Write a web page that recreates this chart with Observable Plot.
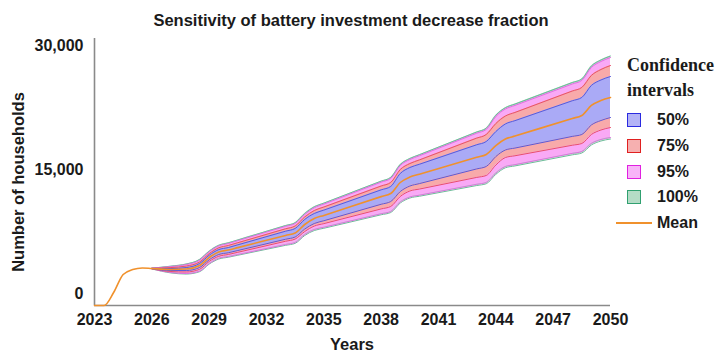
<!DOCTYPE html>
<html><head><meta charset="utf-8">
<script src="https://cdn.jsdelivr.net/npm/d3@7"></script>
<script src="https://cdn.jsdelivr.net/npm/@observablehq/plot@0.6"></script>
<style>
body{margin:0;background:#fff;}
#wrap{position:relative;width:718px;height:352px;font-family:"Liberation Sans",Arial,sans-serif;font-weight:bold;color:#1a1a1a;overflow:hidden;}
#chart{position:absolute;left:0;top:0;}
.t{position:absolute;white-space:nowrap;line-height:20px;}
.sq{position:absolute;width:12px;height:12px;border-width:1.5px;border-style:solid;}
.serif{font-family:"Liberation Serif","Times New Roman",serif;font-size:18px;line-height:22px;}
</style></head><body>
<div id="wrap">
  <div id="chart"></div>
  <div class="t" style="left:0;width:702px;text-align:center;top:10px;font-size:16.5px;">Sensitivity of battery investment decrease fraction</div>
  <div class="t" style="left:17.5px;top:182px;font-size:16.5px;transform:translate(-50%,-50%) rotate(-90deg);">Number of households</div>
  <div class="t" style="left:352px;top:336px;font-size:16.5px;line-height:16px;transform:translateX(-50%);">Years</div>
  <div id="legend"></div>
</div>
<script>
// Mean trajectory
const years = [2023,2023.5,2024,2024.5,2025,2025.5,2026,2027,2027.8,2028.5,2029,2029.5,2030,2030.5,2033,2033.5,2034,2034.5,2035,2038,2038.5,2039,2039.5,2040,2043,2043.5,2044,2044.5,2045,2048,2048.5,2049,2049.5,2050];
const meanValues = [-1450,-1450,120,2300,2900,3090,3020,2900,2960,3390,4360,5020,5260,5554,7026,7320,8350,9070,9449,11721,12100,13430,14090,14431,16479,16820,17900,18690,19046,21184,21540,22750,23350,23710];

// Confidence bands
const bandYears = [2026,2027,2027.8,2028.5,2029,2029.5,2030,2030.5,2033,2033.5,2034,2034.5,2035,2038,2038.5,2039,2039.5,2040,2043,2043.5,2044,2044.5,2045,2048,2048.5,2049,2049.5,2050];
const ci50Lo  = [3000,2780,2780,3150,4080,4720,4930,5203,6567,6840,7800,8470,8803,10797,11130,12340,13000,13296,15074,15370,16570,17360,17595,19005,19240,20390,20930,21290];
const ci50Hi  = [3040,3020,3140,3630,4630,5310,5560,5890,7540,7870,8960,9680,10089,12541,12950,14520,15240,15634,17996,18390,19590,20510,20911,23319,23720,25170,25830,26250];
const ci75Lo  = [2990,2660,2600,2930,3880,4500,4720,4987,6323,6590,7500,8160,8456,10234,10530,11740,12400,12635,14045,14280,15540,16450,16663,17937,18150,19240,19780,20080];
const ci75Hi  = [3050,3140,3320,3810,4820,5530,5810,6147,7833,8170,9260,10040,10464,13006,13430,15000,15720,16160,18800,19240,20560,21470,21903,24497,24930,26380,27100,27580];
const ci95Lo  = [2980,2540,2415,2700,3630,4260,4470,4713,5927,6170,7140,7740,8013,9647,9920,11070,11670,11890,13210,13430,14570,15360,15588,16952,17180,18150,18630,18870];
const ci95Hi  = [3060,3260,3505,4030,5040,5750,6050,6396,8124,8470,9560,10370,10814,13476,13920,15490,16210,16665,19395,19850,21410,22320,22753,25347,25780,27350,28070,28550];
const ci100Lo = [2975,2490,2355,2640,3560,4170,4390,4630,5830,6070,7020,7620,7893,9527,9800,10950,11550,11766,13064,13280,14420,15210,15434,16776,17000,17970,18450,18690];
const ci100Hi = [3065,3310,3565,4120,5120,5830,6130,6479,8221,8570,9680,10490,10934,13596,14040,15610,16330,16789,19541,20000,21570,22480,22915,25525,25960,27530,28250,28730];

// Axis ticks and legend labels
const xTicks = [2023,2026,2029,2032,2035,2038,2041,2044,2047,2050];
const yTicks = [0,15000,30000];
const legendTitle = ["Confidence","intervals"];
const legendLabels = ["50%","75%","95%","100%"];
const meanLabel = "Mean";

const fills   = ["#aaaaf6","#f8aaaa","#f9a9f6","#b0dcc4"];
const strokes = ["#5a5ad8","#e8506a","#e070e0","#6cbc98"];
const legendFill = ["#b3b3f6","#f6b0b0","#f8b4f8","#b4dcc6"];
const legendStroke = ["#2a2ae0","#e02020","#e020e0","#30a070"];
const meanColor = "#f0912c";

const rows = years.map((x,i)=>({x, mean: meanValues[i]}));
const bands = bandYears.map((x,i)=>({x,
  lo50:ci50Lo[i], hi50:ci50Hi[i], lo75:ci75Lo[i], hi75:ci75Hi[i],
  lo95:ci95Lo[i], hi95:ci95Hi[i], lo100:ci100Lo[i], hi100:ci100Hi[i]}));
const curve = "monotone-x";
const yMin = -1450;

const levels = ["100","95","75","50"];
const idx = {"50":0,"75":1,"95":2,"100":3};
const areaMarks = levels.map(l => Plot.areaY(bands,{x:"x",y1:"lo"+l,y2:"hi"+l,fill:fills[idx[l]],curve}));
const lineMarks = levels.flatMap(l => [
  Plot.lineY(bands,{x:"x",y:"lo"+l,stroke:strokes[idx[l]],strokeWidth:1,curve}),
  Plot.lineY(bands,{x:"x",y:"hi"+l,stroke:strokes[idx[l]],strokeWidth:1,curve})
]);

const chart = Plot.plot({
  width:718, height:352,
  marginLeft:94, marginRight:108, marginTop:38, marginBottom:47,
  x:{domain:[2023,2050]},
  y:{domain:[yMin,30850]},
  style:{fontFamily:"'Liberation Sans', Arial, sans-serif", fontSize:"16px", fontWeight:"bold", color:"#1a1a1a", background:"transparent", overflow:"visible"},
  marks:[
    Plot.ruleX([2023],{stroke:"#8a8a8a",strokeWidth:1.6}),
    Plot.ruleY([yMin],{stroke:"#8a8a8a",strokeWidth:1.6}),
    ...areaMarks,
    ...lineMarks,
    Plot.lineY(rows,{x:"x",y:"mean",stroke:meanColor,strokeWidth:1.6,curve}),
    Plot.axisX({ticks:xTicks, tickFormat:d=>String(d), tickSize:0, tickPadding:8, label:null, fill:"#1a1a1a"}),
    Plot.axisY({ticks:yTicks, tickFormat:d3.format(","), tickSize:0, tickPadding:11, label:null, fill:"#1a1a1a"})
  ]
});
document.getElementById("chart").appendChild(chart);

// Legend
const lg = document.getElementById("legend");
let html = "";
html += `<div class="t serif" style="left:627px;top:${65-11}px;">${legendTitle[0]}</div>`;
html += `<div class="t serif" style="left:627px;top:${90-11}px;">${legendTitle[1]}</div>`;
const centers = [120,146,172,197];
legendLabels.forEach((lab,i)=>{
  html += `<div class="sq" style="left:627px;top:${centers[i]-7}px;background:${legendFill[i]};border-color:${legendStroke[i]};"></div>`;
  html += `<div class="t" style="left:657px;top:${centers[i]-10}px;font-size:16px;">${lab}</div>`;
});
html += `<div style="position:absolute;left:616px;top:222px;width:36px;height:2px;background:${meanColor};"></div>`;
html += `<div class="t" style="left:657px;top:213px;font-size:16px;">${meanLabel}</div>`;
lg.innerHTML = html;
</script>
</body></html>
